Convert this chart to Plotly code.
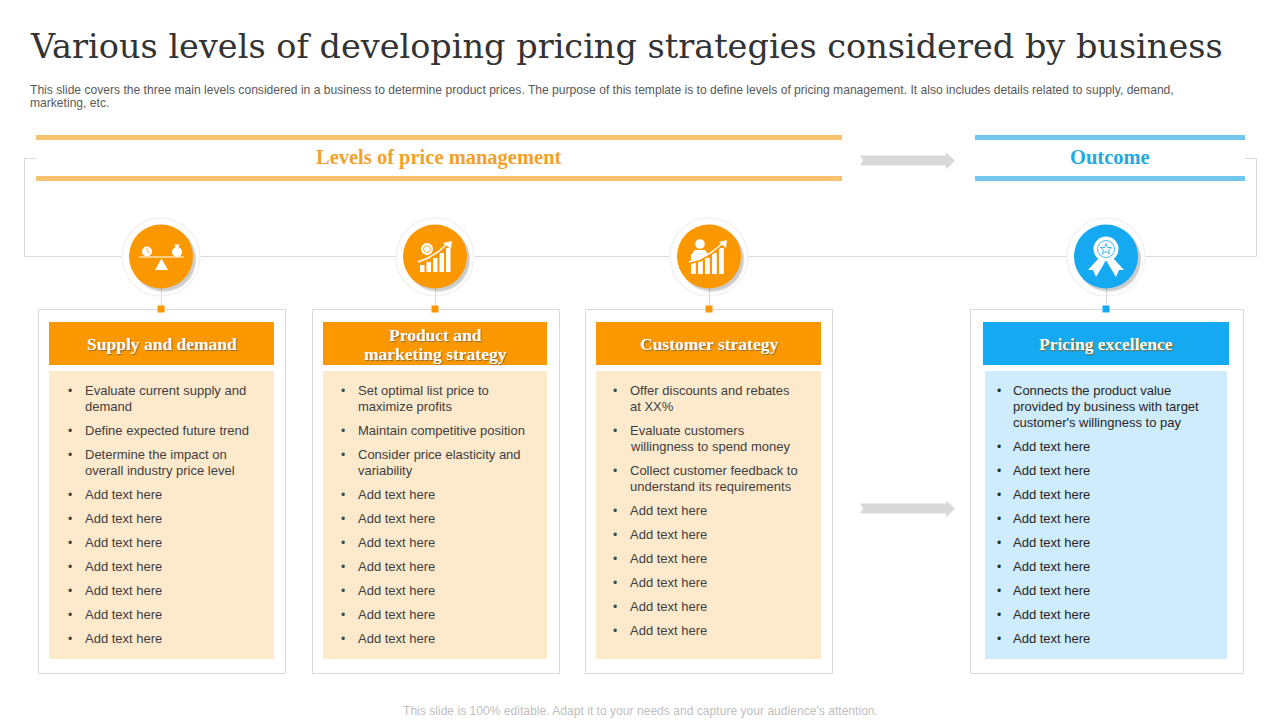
import plotly.graph_objects as go

# --- texts ---
title = "Various levels of developing pricing strategies considered by business"
subtitle_lines = [
    "This slide covers the three main levels considered in a business to determine product prices. The purpose of this template is to define levels of pricing management. It also includes details related to supply, demand,",
    "marketing, etc.",
]
footer = "This slide is 100% editable. Adapt it to your needs and capture your audience's attention."

group_titles = ["Levels of price management", "Outcome"]
card_titles = [
    ["Supply and demand"],
    ["Product and", "marketing strategy"],
    ["Customer strategy"],
    ["Pricing excellence"],
]

add_text = ["Add text here"]
supply_items = [
    ["Evaluate current supply and", "demand"],
    ["Define expected future trend"],
    ["Determine the impact on", "overall industry price level"],
] + [add_text] * 7
product_items = [
    ["Set optimal list price to", "maximize profits"],
    ["Maintain competitive position"],
    ["Consider price elasticity and", "variability"],
] + [add_text] * 7
customer_items = [
    ["Offer discounts and rebates", "at XX%"],
    ["Evaluate customers", "willingness to spend money"],
    ["Collect customer feedback to", "understand its requirements"],
] + [add_text] * 6
outcome_items = [
    ["Connects the product value", "provided by business with target", "customer's willingness to pay"],
] + [add_text] * 9
card_items = [supply_items, product_items, customer_items, outcome_items]

# --- layout (pixels) ---
ORANGE = "#FB9800"
BLUE = "#14A9F0"
LINE = "#D9D9D9"
TEXT = "#404040"
SERIF = "Liberation Serif"
TITLE_FONT = "DejaVu Serif"
SANS = "Liberation Sans"

card_x = [(38.5, 285.5), (312.5, 559.5), (585.5, 832.5), (970.5, 1243.5)]
head_x = [(49, 274), (323, 547), (596, 821), (983, 1229)]
body_x = [(49, 274), (323, 547), (596, 821), (985, 1227)]
centers = [161, 435, 709, 1106]
bullet_x = [67, 340, 612, 996]
text_x = [84, 357, 629, 1012]
main_color = [ORANGE, ORANGE, ORANGE, BLUE]
body_color = ["#FDE9CC", "#FDE9CC", "#FDE9CC", "#CEECFB"]
text_color = [TEXT, TEXT, TEXT, "#262626"]

shapes = []
notes = []


def rect(x0, y0, x1, y1, fill=None, line=None, width=1):
    shapes.append(dict(type="rect", x0=x0, y0=y0, x1=x1, y1=y1,
                       fillcolor=fill or "rgba(0,0,0,0)",
                       line=dict(color=line or "rgba(0,0,0,0)", width=width if line else 0)))


def circle(cx, cy, r, fill=None, line=None, width=1):
    shapes.append(dict(type="circle", x0=cx - r, y0=cy - r, x1=cx + r, y1=cy + r,
                       fillcolor=fill or "rgba(0,0,0,0)",
                       line=dict(color=line or "rgba(0,0,0,0)", width=width if line else 0)))


def path(points, fill=None, line=None, width=1, close=True):
    d = "M " + " L ".join(f"{x},{y}" for x, y in points) + (" Z" if close else "")
    shapes.append(dict(type="path", path=d,
                       fillcolor=fill or "rgba(0,0,0,0)",
                       line=dict(color=line or "rgba(0,0,0,0)", width=width if line else 0)))


def label(x, y, text, size=13, color=TEXT, font=SANS, anchor="left", shadow=None):
    f = dict(family=font, size=size, color=color)
    if shadow:
        f["shadow"] = shadow
    notes.append(dict(x=x, y=y, xref="x", yref="y", text=text, showarrow=False,
                      xanchor=anchor, yanchor="middle", font=f, borderpad=0))


def arrow(y):
    path([(860, y - 5), (946, y - 5), (946, y - 8), (955, y), (946, y + 9), (946, y + 5),
          (860, y + 5), (863, y)], fill="#D9D9D9")


# --- connector lines ---
path([(36, 158.5), (24.5, 158.5), (24.5, 256.5), (1256.5, 256.5), (1256.5, 158.5), (1245, 158.5)],
     line=LINE, close=False)

# --- group headers ---
for y0, y1 in [(135, 140), (176, 181)]:
    rect(36, y0, 842, y1, fill="#F6C26F")
    rect(975, y0, 1245, y1, fill="#73C7EC")
label(439, 157, f"<b>{group_titles[0]}</b>", size=20.5, color="#F2A12A", font=SERIF, anchor="center")
label(1110, 157, f"<b>{group_titles[1]}</b>", size=20.5, color="#25A9E0", font=SERIF, anchor="center")
arrow(160.5)
arrow(508.5)

# --- cards ---
for i, items in enumerate(card_items):
    cx = centers[i]
    rect(card_x[i][0], 309.5, card_x[i][1], 673.5, line=LINE)
    rect(head_x[i][0], 322, head_x[i][1], 365, fill=main_color[i])
    rect(body_x[i][0], 371, body_x[i][1], 659, fill=body_color[i])

    # badge
    circle(cx, 257, 39, fill="#FFFFFF", line="#F2F2F2", width=1.5)
    path([(cx + 0.5, 288), (cx + 0.5, 309)], line=LINE, close=False)
    rect(cx - 3.5, 305.5, cx + 3.5, 312.5, fill=main_color[i])
    circle(cx + 3, 260, 32.5, fill="rgba(90,90,90,0.12)")
    circle(cx + 2.5, 259, 32, fill="rgba(90,90,90,0.22)")
    circle(cx, 256.5, 32, fill=main_color[i])

    # header text
    lines = card_titles[i]
    offset = 344 - 9.5 * (len(lines) - 1)
    for k, t in enumerate(lines):
        label((head_x[i][0] + head_x[i][1]) / 2, offset + 19 * k, f"<b>{t}</b>", size=17.5,
              color="#FFFFFF", font=SERIF, anchor="center", shadow="1px 1px 1px #8a6a30")

    # bullet rows
    y = 390.5
    for item in items:
        label(bullet_x[i], y, "•", size=12, color=text_color[i])
        for t in item:
            label(text_x[i], y, t, color=text_color[i])
            y += 16
        y += 8

# --- icons ---
W = "#FFFFFF"
# scale
path([(139, 257), (184, 257)], line=W, width=1.2, close=False)
path([(161.5, 258.5), (155, 270), (168, 270)], fill=W)
circle(147, 251.5, 5, fill=W)
path([(147, 248), (147, 251.5), (150, 253)], line=ORANGE, width=0.8, close=False)
circle(177, 252, 5, fill=W)
path([(174.5, 244.5), (179.5, 244.5), (178, 248), (176, 248)], fill=W)

# growth chart with coin
circle(427, 249, 6, fill=W)
circle(427, 249, 3.5, line=ORANGE, width=0.8)
for bx, top in [(420, 265), (426.5, 262), (433, 258), (439.5, 253), (446, 248)]:
    rect(bx, top, bx + 4.5, 272, fill=W)
path([(418, 263), (428, 259), (438, 253), (447, 245)], line=ORANGE, width=3, close=False)
path([(418, 262), (428, 258), (438, 252), (447, 244)], line=W, width=1.5, close=False)
path([(452, 241), (451, 249), (443, 243)], fill=W)

# person with chart
circle(700, 244, 4.8, fill=W)
path([(691, 262), (691, 255), (695, 250), (705, 250), (708, 254), (708, 259)], fill=W)
for bx, top in [(691, 262), (698, 261), (705, 258), (712, 253), (719, 248)]:
    rect(bx, top, bx + 4.8, 274, fill=W)
path([(689, 263), (700, 260), (712, 253), (723, 244)], line=ORANGE, width=3, close=False)
path([(689, 262), (700, 259), (712, 252), (723, 243)], line=W, width=1.5, close=False)
path([(727, 240), (726, 248), (719, 242)], fill=W)

# award ribbon
path([(1099, 258), (1088, 270), (1093, 270), (1096, 277), (1105, 262)], fill=W)
path([(1113, 258), (1124, 270), (1119, 270), (1116, 277), (1107, 262)], fill=W)
circle(1106, 249, 12.5, fill=W)
circle(1106, 249, 8.5, line=BLUE, width=0.8)
path([(1106, 243.5), (1107.5, 247.5), (1111.5, 247.5), (1108.5, 250), (1109.5, 254), (1106, 251.5),
      (1102.5, 254), (1103.5, 250), (1100.5, 247.5), (1104.5, 247.5)], line=BLUE, width=0.8)

# --- top and bottom texts ---
label(29, 46, title, size=33.5, color="#333333", font=TITLE_FONT)
for k, t in enumerate(subtitle_lines):
    label(29, 89.5 + 13.5 * k, t, size=12.1, color="#595959")
label(640, 711, footer, size=12.1, color="#BFBFBF", anchor="center")

fig = go.Figure()
fig.update_layout(
    width=1280,
    height=720,
    margin=dict(l=0, r=0, t=0, b=0),
    paper_bgcolor="white",
    plot_bgcolor="white",
    showlegend=False,
    shapes=shapes,
    annotations=notes,
    xaxis=dict(range=[0, 1280], visible=False, fixedrange=True),
    yaxis=dict(range=[720, 0], visible=False, fixedrange=True),
)
# the page has a default 8px body margin, drop it so pixels line up
fig.write_html(
    "out.html",
    config={"displayModeBar": False},
    post_script="document.body.style.margin='0'; document.body.style.overflow='hidden';",
)
